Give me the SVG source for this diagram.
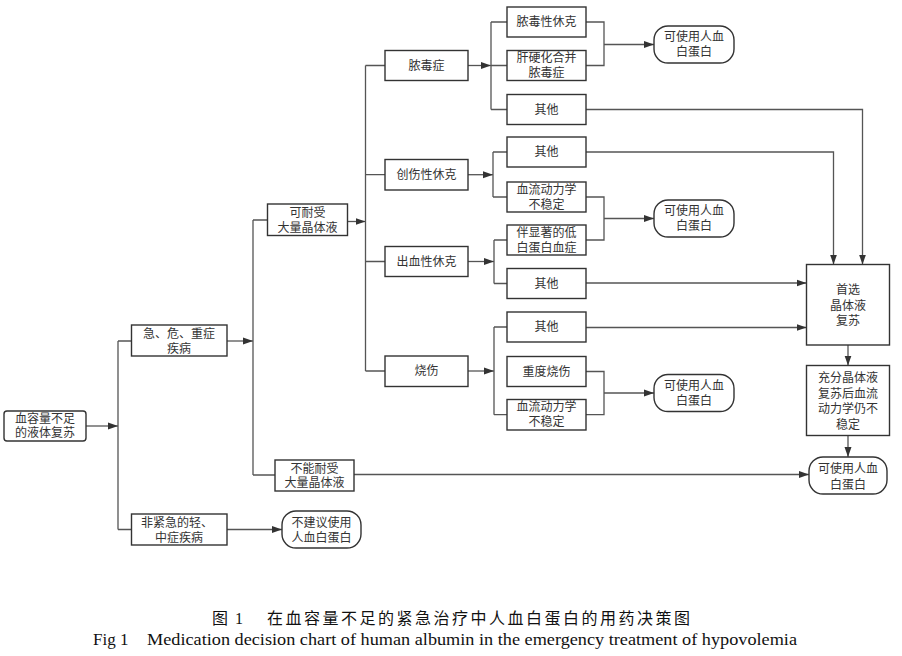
<svg xmlns="http://www.w3.org/2000/svg" width="902" height="656" viewBox="0 0 902 656">
<style>
.b{fill:#fff;stroke:#333;stroke-width:1.4}
.t{font-family:"Liberation Sans","Noto Sans CJK SC",sans-serif;font-size:12px;fill:#333;text-anchor:middle}
.c{fill:none;stroke:#555;stroke-width:1.3}
.a{marker-end:url(#ah)}
.cap{font-family:"Liberation Serif","Noto Sans CJK SC",serif;fill:#111}
</style>
<defs>
<marker id="ah" markerUnits="userSpaceOnUse" markerWidth="10" markerHeight="8" refX="10" refY="4" orient="auto"><path d="M0,0.5 L10,4 L0,7.5 z" fill="#333"/></marker>
</defs>
<rect width="902" height="656" fill="#fff"/>
<g id="connectors">
<path class="c a" d="M86,426 H118"/>
<path class="c" d="M118,341 V529.5 M118,341 H131.5 M118,529.5 H131.5"/>
<path class="c a" d="M227,341 H253"/>
<path class="c" d="M253,220 V475 M253,220 H267.5 M253,475 H275"/>
<path class="c a" d="M227,529.5 H282"/>
<path class="c a" d="M347.5,221.5 H365.5"/>
<path class="c" d="M365.5,65.5 V371 M365.5,65.5 H385 M365.5,174.7 H385 M365.5,261.5 H385 M365.5,371 H385"/>
<path class="c a" d="M468,65.5 H491"/>
<path class="c" d="M491,65.5 H507 M491,22 V109.5 M491,22 H507 M491,109.5 H507"/>
<path class="c a" d="M468,174.7 H493"/>
<path class="c" d="M493,152 V197 M493,152 H507 M493,197 H507"/>
<path class="c a" d="M468,261.5 H494"/>
<path class="c" d="M494,240 V283.5 M494,240 H507 M494,283.5 H507"/>
<path class="c a" d="M468,371 H494"/>
<path class="c" d="M494,327 V414.7 M494,327 H507 M494,414.7 H507"/>
<path class="c" d="M586,22 H604 V65.5 H586"/>
<path class="c a" d="M604,44.5 H654"/>
<path class="c" d="M586,197 H604 V240 H586"/>
<path class="c a" d="M604,218.5 H654"/>
<path class="c" d="M586,371.5 H604 V414.7 H586"/>
<path class="c a" d="M604,393 H654"/>
<path class="c a" d="M586,109.5 H862.5 V264.5"/>
<path class="c a" d="M586,152 H833.5 V264.5"/>
<path class="c a" d="M586,283 H806.5"/>
<path class="c a" d="M586,327.5 H806.5"/>
<path class="c a" d="M848,345 V365.5"/>
<path class="c a" d="M848,435.5 V457"/>
<path class="c a" d="M354,474.5 H809"/>
</g>
<g id="n0"><rect class="b" x="4" y="411" width="82" height="30" rx="3"/><text class="t" x="45" y="422.5">血容量不足</text><text class="t" x="45" y="437">的液体复苏</text></g>
<g id="n1"><rect class="b" x="131.5" y="325" width="95.5" height="31"/><text class="t" x="179" y="337.5">急、危、重症</text><text class="t" x="179" y="353">疾病</text></g>
<g id="n2"><rect class="b" x="131.5" y="514" width="95.5" height="31"/><text class="t" x="177" y="527">非紧急的轻、</text><text class="t" x="179" y="541.5">中症疾病</text></g>
<g id="n3"><rect class="b" x="282" y="511" width="79" height="37" rx="14"/><text class="t" x="321.5" y="527">不建议使用</text><text class="t" x="321.5" y="541.5">人血白蛋白</text></g>
<g id="n4"><rect class="b" x="267.5" y="204" width="80" height="31.5"/><text class="t" x="307.5" y="216.5">可耐受</text><text class="t" x="307.5" y="232">大量晶体液</text></g>
<g id="n5"><rect class="b" x="275" y="460" width="79" height="31"/><text class="t" x="314.5" y="472.5">不能耐受</text><text class="t" x="314.5" y="487">大量晶体液</text></g>
<g id="n6"><rect class="b" x="385" y="50.5" width="83" height="30"/><text class="t" x="426.5" y="69.5">脓毒症</text></g>
<g id="n7"><rect class="b" x="385" y="159.5" width="83" height="30.5"/><text class="t" x="426.5" y="179">创伤性休克</text></g>
<g id="n8"><rect class="b" x="385" y="246.5" width="83" height="30"/><text class="t" x="426.5" y="265.5">出血性休克</text></g>
<g id="n9"><rect class="b" x="385" y="356" width="83" height="30.5"/><text class="t" x="426.5" y="375">烧伤</text></g>
<g id="n10"><rect class="b" x="507" y="7" width="79" height="30"/><text class="t" x="546.5" y="26">脓毒性休克</text></g>
<g id="n11"><rect class="b" x="507" y="50.5" width="79" height="30"/><text class="t" x="546.5" y="62">肝硬化合并</text><text class="t" x="546.5" y="77">脓毒症</text></g>
<g id="n12"><rect class="b" x="507" y="94.5" width="79" height="30"/><text class="t" x="546.5" y="113.5">其他</text></g>
<g id="n13"><rect class="b" x="507" y="137" width="79" height="30"/><text class="t" x="546.5" y="156">其他</text></g>
<g id="n14"><rect class="b" x="507" y="182" width="79" height="30"/><text class="t" x="546.5" y="193.5">血流动力学</text><text class="t" x="546.5" y="208.5">不稳定</text></g>
<g id="n15"><rect class="b" x="507" y="225" width="79" height="30"/><text class="t" x="546.5" y="236.5">伴显著的低</text><text class="t" x="546.5" y="251.5">白蛋白血症</text></g>
<g id="n16"><rect class="b" x="507" y="268.5" width="79" height="30"/><text class="t" x="546.5" y="287.5">其他</text></g>
<g id="n17"><rect class="b" x="507" y="312" width="79" height="30"/><text class="t" x="546.5" y="331">其他</text></g>
<g id="n18"><rect class="b" x="507" y="356.5" width="79" height="30"/><text class="t" x="546.5" y="375.5">重度烧伤</text></g>
<g id="n19"><rect class="b" x="507" y="399.5" width="79" height="30.5"/><text class="t" x="546.5" y="411">血流动力学</text><text class="t" x="546.5" y="426">不稳定</text></g>
<g id="p1"><rect class="b" x="654" y="26" width="80" height="37" rx="14"/><text class="t" x="694" y="41">可使用人血</text><text class="t" x="694" y="56">白蛋白</text></g>
<g id="p2"><rect class="b" x="654" y="200" width="80" height="37" rx="14"/><text class="t" x="694" y="215">可使用人血</text><text class="t" x="694" y="230">白蛋白</text></g>
<g id="p3"><rect class="b" x="654" y="374.5" width="80" height="37" rx="14"/><text class="t" x="694" y="389.5">可使用人血</text><text class="t" x="694" y="404.5">白蛋白</text></g>
<g id="n20"><rect class="b" x="806.5" y="264.5" width="83" height="80.5"/><text class="t" x="848" y="294">首选</text><text class="t" x="848" y="309.5">晶体液</text><text class="t" x="848" y="324.5">复苏</text></g>
<g id="n21"><rect class="b" x="806.5" y="365.5" width="83" height="70"/><text class="t" x="848" y="382">充分晶体液</text><text class="t" x="848" y="397.5">复苏后血流</text><text class="t" x="848" y="413">动力学仍不</text><text class="t" x="848" y="428.5">稳定</text></g>
<g id="p4"><rect class="b" x="809" y="457" width="78" height="37" rx="14"/><text class="t" x="848" y="473">可使用人血</text><text class="t" x="848" y="488.5">白蛋白</text></g>
<g id="caption">
<text class="cap" x="212" y="623.5" font-size="16">图</text>
<text class="cap" x="235" y="623.5" font-size="16">1</text>
<text class="cap" x="267" y="623.5" font-size="16" textLength="423" lengthAdjust="spacing">在血容量不足的紧急治疗中人血白蛋白的用药决策图</text>
<text class="cap" x="93" y="645" font-size="17">Fig 1</text>
<text class="cap" x="147" y="645" font-size="17" textLength="650" lengthAdjust="spacingAndGlyphs">Medication decision chart of human albumin in the emergency treatment of hypovolemia</text>
</g>
</svg>
